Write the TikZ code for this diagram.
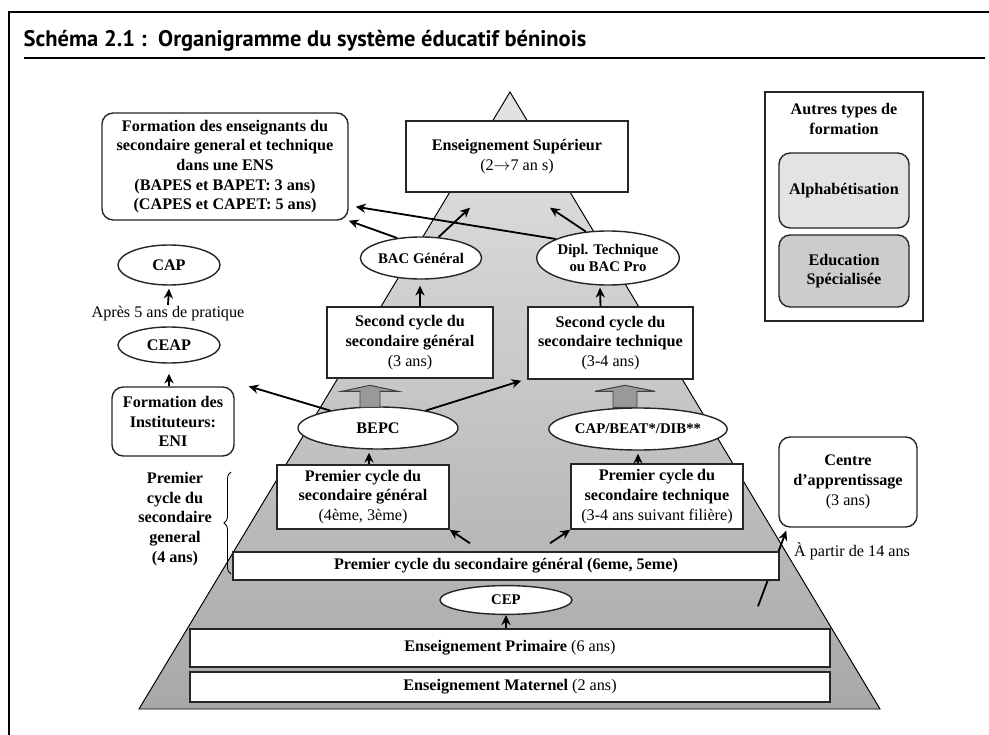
\documentclass[tikz,border=0pt]{standalone}
\usepackage{fontspec}
\setmainfont{Liberation Serif}
\newfontfamily\titlefont{PT Sans}
\usetikzlibrary{arrows.meta, positioning, shapes.geometric, calc, decorations.pathreplacing}

\begin{document}
\begin{tikzpicture}[
  x=0.025cm, y=-0.025cm,
  every node/.style={font=\fontsize{11.5}{14}\selectfont\bfseries, align=center, inner sep=1pt},
  box/.style={draw=black!85, line width=1pt, fill=white, rectangle},
  rbox/.style={box, rounded corners=8pt},
  oval/.style={draw=black!85, line width=1pt, fill=white, ellipse, inner sep=0pt},
  smalltxt/.style={font=\fontsize{10.5}{12.5}\selectfont\bfseries},
  plain/.style={font=\fontsize{11.5}{14}\selectfont},
  arr/.style={->, line width=1.3pt},
  bigarrow/.style={draw=black!75, line width=0.7pt, fill=gray!80},
  >={Stealth[length=7pt,width=6.5pt]}
]
  \useasboundingbox (0,0) rectangle (989,735);

  % frame and title
  \draw[line width=1.6pt] (9,735) -- (9,12) -- (989,12);
  \node[anchor=base west, font=\titlefont\bfseries\fontsize{16}{18}\selectfont] (title) at (22,47)
    {Schéma 2.1 :\ \ Organigramme du système éducatif béninois};
  \draw[line width=0.8pt] (24,58) -- (985,58);

  % pyramid
  \shade[top color=gray!22, bottom color=gray!68] (510,92) -- (139,709) -- (880,709) -- cycle;
  \draw[line width=0.7pt] (510,92) -- (139,709) -- (880,709) -- cycle;

  % base levels
  \node[box, minimum width=16cm, minimum height=0.95cm] (prim) at (510,648)
    {Enseignement Primaire \mdseries(6 ans)};
  \node[box, minimum width=16cm, minimum height=0.75cm] (mat) at (510,687)
    {Enseignement Maternel \mdseries(2 ans)};
  \node[rbox, minimum width=3.45cm, minimum height=2.25cm] (centre) at (848,482)
    {Centre\\d’apprentissage\\\mdseries(3 ans)};
  \node[plain] (partir) at (852,551) {À partir de 14 ans};
  \draw[arr] ($(prim.north)+(248,-22)$) -- ($(centre.south west)+(8,3)$);

  \node[box, minimum width=13.65cm, minimum height=0.7cm] (cyc1) at (506,566)
    {Premier cycle du secondaire général (6eme, 5eme)};
  \node[oval, smalltxt, minimum width=3.3cm, minimum height=0.72cm] (cep) at (506,600) {CEP};
  \draw[arr] (prim.north -| cep.south) -- (cep.south);

  % premier cycle
  \node[box, minimum width=4.3cm, minimum height=1.6cm] (pgen) at (363,497)
    {Premier cycle du\\secondaire général\\\mdseries(4ème, 3ème)};
  \node[box, minimum width=4.3cm, minimum height=1.625cm] (ptech) at (657,496.5)
    {Premier cycle du\\secondaire technique\\\mdseries(3-4 ans suivant filière)};
  \draw[arr] ($(cyc1.north)+(-36,-8)$) -- (pgen.south east);
  \draw[arr] ($(cyc1.north)+(44,-8)$) -- (ptech.south west);

  \draw[decorate, decoration={brace, amplitude=5pt}, line width=0.6pt] (231,574) -- (231,472);
  \node (brl) at (175,519) {Premier\\cycle du\\secondaire\\general\\(4 ans)};

  % diplomes du premier cycle
  \node[oval, minimum width=4cm, minimum height=1.05cm] (bepc) at (378,428) {BEPC};
  \node[oval, smalltxt, minimum width=3.825cm, minimum height=1.05cm] (cbd) at (638,429) {CAP/BEAT*/DIB**};
  \draw[arr] ($(pgen.north)+(6,0)$) -- ($(bepc.south)+(-9,3)$);
  \draw[arr] (ptech.north -| cbd.south) -- ($(cbd.south)+(0,3)$);

  % second cycle
  \node[box, minimum width=4.15cm, minimum height=1.775cm] (sgen) at (410,342.5)
    {Second cycle du\\secondaire général\\\mdseries(3 ans)};
  \node[box, minimum width=4.125cm, minimum height=1.8cm] (stech) at (610.5,343)
    {Second cycle du\\secondaire technique\\\mdseries(3-4 ans)};
  \draw[bigarrow] ($(bepc.north)+(-18,1)$) -- ++(0,-16) -- ++(-18,0) -- ++(28,-6)
    -- ++(28,6) -- ++(-18,0) -- ++(0,16) -- cycle;
  \draw[bigarrow] ($(cbd.north)+(-25,0)$) -- ++(0,-16) -- ++(-18,0) -- ++(30,-6)
    -- ++(30,6) -- ++(-18,0) -- ++(0,16) -- cycle;
  \draw[arr] (bepc.20) -- ($(stech.south west)+(-6,1)$);

  % ecole normale
  \node[rbox, minimum width=3.05cm, minimum height=1.725cm] (eni) at (173,421.5)
    {Formation des\\Instituteurs:\\ENI};
  \node[oval, minimum width=2.55cm, minimum height=0.9cm] (ceap) at (169,345) {CEAP};
  \node[plain] (apres) at (168,314) {Après 5 ans de pratique};
  \node[oval, minimum width=2.55cm, minimum height=1cm] (cap) at (169,265) {CAP};
  \draw[arr] (bepc.160) -- ($(eni.north east)+(14,0)$);
  \draw[arr] (eni.north -| ceap.south) -- ($(ceap.south)+(0,10)$);
  \draw[arr] (apres.north) -- ($(cap.south)+(0,3)$);

  % baccalaureat
  \node[oval, smalltxt, minimum width=2.925cm, minimum height=1.05cm] (bacg) at (421,258) {BAC Général};
  \node[oval, smalltxt, minimum width=2.95cm, minimum height=1.35cm] (dipl) at (608,258)
    {Dipl. Technique\\ou BAC Pro};
  \draw[arr] ($(sgen.north)+(10,0)$) -- ($(bacg.south)+(-1,6)$);
  \draw[arr] ($(stech.north)+(-10,0)$) -- ($(dipl.south)+(-8,2)$);

  % superieur
  \node[box, minimum width=5.55cm, minimum height=1.775cm] (sup) at (517,156.5)
    {Enseignement Supérieur\\\mdseries(2$\rightarrow$7 an s)};
  \node[rbox, minimum width=6.15cm, minimum height=2.675cm] (ens) at (225,166.5)
    {Formation des enseignants du\\secondaire general et technique\\dans une ENS\\(BAPES et BAPET: 3 ans)\\(CAPES et CAPET: 5 ans)};
  \draw[arr] (bacg.140) -- (ens.south east);
  \draw[arr] (bacg.50) -- ($(sup.south)+(-47,15)$);
  \draw[arr] (dipl.130) -- ($(sup.south)+(33,15)$);
  \draw[arr] (dipl.160) -- ($(ens.south east)+(7,-14)$);

  % autres types de formation
  \node[box, line width=0.8pt, minimum width=3.95cm, minimum height=5.725cm] (autres) at (844,206.5) {};
  \node (autresT) at (844,119) {Autres types de\\formation};
  \node[rbox, fill=gray!22, minimum width=3.25cm, minimum height=1.875cm] (alpha) at (844,190.5) {Alphabétisation};
  \node[rbox, fill=gray!40, minimum width=3.25cm, minimum height=1.8cm] (edu) at (844,271) {Education\\Spécialisée};
\end{tikzpicture}
\end{document}
